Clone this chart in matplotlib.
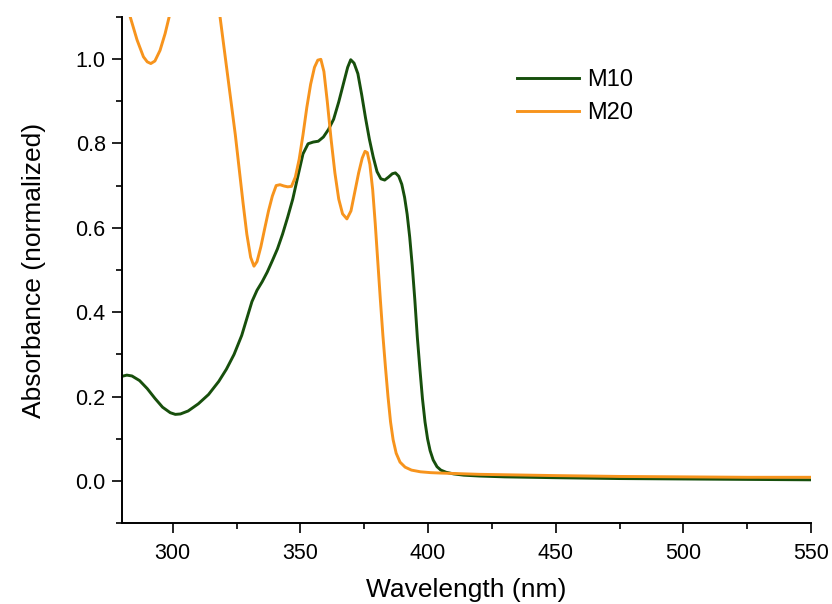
import matplotlib
matplotlib.use('Agg')
import matplotlib.pyplot as plt
from matplotlib.ticker import MultipleLocator

plt.rcParams['font.family'] = ['Liberation Sans', 'DejaVu Sans']

# ------------------------------------------------ data ------------------------------------------------ #
wl_m10 = [280, 282, 284, 287, 290, 293, 296, 299, 301, 303, 306, 310, 314, 318, 321, 324, 327, 329,
          331, 333, 335, 337, 339, 341, 343, 345, 347, 349, 351, 353, 355, 357, 359, 361, 363, 365,
          367, 368.5, 369.7, 371, 372.5, 374, 375.5, 377, 378.5, 380, 381.5, 383, 384.5, 386, 387.2,
          388.5, 389.7, 390.8, 391.8, 392.8, 393.8, 394.8, 395.8, 396.8, 397.8, 398.8, 399.8, 400.8,
          402, 403.5, 405, 407, 410, 414, 420, 430, 450, 475, 500, 525, 550]
abs_m10 = [0.248, 0.251, 0.249, 0.238, 0.219, 0.196, 0.175, 0.162, 0.158, 0.159, 0.166, 0.183, 0.205,
           0.236, 0.265, 0.3, 0.345, 0.385, 0.425, 0.452, 0.472, 0.495, 0.522, 0.55, 0.585, 0.625,
           0.668, 0.722, 0.775, 0.799, 0.803, 0.805, 0.815, 0.833, 0.857, 0.898, 0.945, 0.98, 0.998,
           0.99, 0.965, 0.915, 0.86, 0.81, 0.768, 0.733, 0.716, 0.713, 0.72, 0.728, 0.73, 0.722, 0.703,
           0.672, 0.632, 0.578, 0.51, 0.43, 0.34, 0.265, 0.195, 0.14, 0.1, 0.072, 0.05, 0.034, 0.026,
           0.021, 0.017, 0.014, 0.012, 0.01, 0.008, 0.006, 0.005, 0.004, 0.003]

wl_m20 = [280, 283.3, 286, 288.5, 290, 291.4, 293, 295, 297, 299, 301, 305, 310, 315, 318.5, 320,
          321.5, 323, 324.5, 326, 327.5, 329, 330.5, 331.8, 333, 334.5, 336, 337.5, 339, 340.5, 342,
          343.5, 345, 346.5, 348, 349.5, 351, 352.5, 354, 355.5, 356.8, 358, 359.2, 360.5, 362,
          363.5, 365, 366.5, 368.2, 369.8, 371.3, 372.8, 374.2, 375.3, 376.2, 377.2, 378.3, 379.3,
          380.3, 381.3, 382.3, 383.3, 384.3, 385.3, 386.3, 387.5, 389, 391, 393.5, 397, 401, 405,
          410, 420, 450, 475, 500, 525, 550]
abs_m20 = [1.17, 1.1, 1.045, 1.005, 0.993, 0.989, 0.995, 1.02, 1.06, 1.11, 1.18, 1.35, 1.45, 1.35,
           1.1, 1.03, 0.96, 0.89, 0.82, 0.74, 0.66, 0.585, 0.53, 0.509, 0.52, 0.555, 0.598, 0.64,
           0.675, 0.7, 0.702, 0.699, 0.697, 0.698, 0.72, 0.762, 0.82, 0.885, 0.94, 0.98, 0.997, 0.999,
           0.97, 0.9, 0.81, 0.73, 0.668, 0.633, 0.621, 0.64, 0.685, 0.73, 0.765, 0.781, 0.778, 0.75,
           0.69, 0.61, 0.52, 0.43, 0.345, 0.27, 0.2, 0.14, 0.098, 0.066, 0.045, 0.033, 0.026, 0.022,
           0.02, 0.019, 0.018, 0.016, 0.013, 0.011, 0.01, 0.009, 0.009]

# ------------------------------------------------ plot ------------------------------------------------ #
fig = plt.figure(figsize=(8.32, 6.04), dpi=100)
ax = fig.add_axes([0.1463, 0.1336, 0.8285, 0.8388])

ax.plot(wl_m10, abs_m10, color='#174f0c', lw=2.1, label='M10')
ax.plot(wl_m20, abs_m20, color='#f7941d', lw=2.1, label='M20')

ax.set_xlim(280, 550)
ax.set_ylim(-0.1, 1.1)
ax.xaxis.set_major_locator(MultipleLocator(50))
ax.xaxis.set_minor_locator(MultipleLocator(25))
ax.yaxis.set_major_locator(MultipleLocator(0.2))
ax.yaxis.set_minor_locator(MultipleLocator(0.1))
ax.yaxis.set_major_formatter(matplotlib.ticker.FormatStrFormatter('%.1f'))

for s in ['top', 'right']:
    ax.spines[s].set_visible(False)
for s in ['left', 'bottom']:
    ax.spines[s].set_linewidth(1.4)
ax.tick_params(which='major', length=7.5, width=1.2, labelsize=15.5)
ax.tick_params(axis='x', which='major', pad=7)
ax.tick_params(axis='y', which='major', pad=4)
ax.tick_params(which='minor', length=4, width=1.2)

ax.set_xlabel('Wavelength (nm)', fontsize=19, labelpad=9.5)
ax.set_ylabel('Absorbance (normalized)', fontsize=19, labelpad=21)

ax.legend(loc='upper left', bbox_to_anchor=(0.543, 0.938), frameon=False, fontsize=17,
          handlelength=2.6, handletextpad=0.35, labelspacing=0.45)

fig.savefig('out.png', dpi=100)
